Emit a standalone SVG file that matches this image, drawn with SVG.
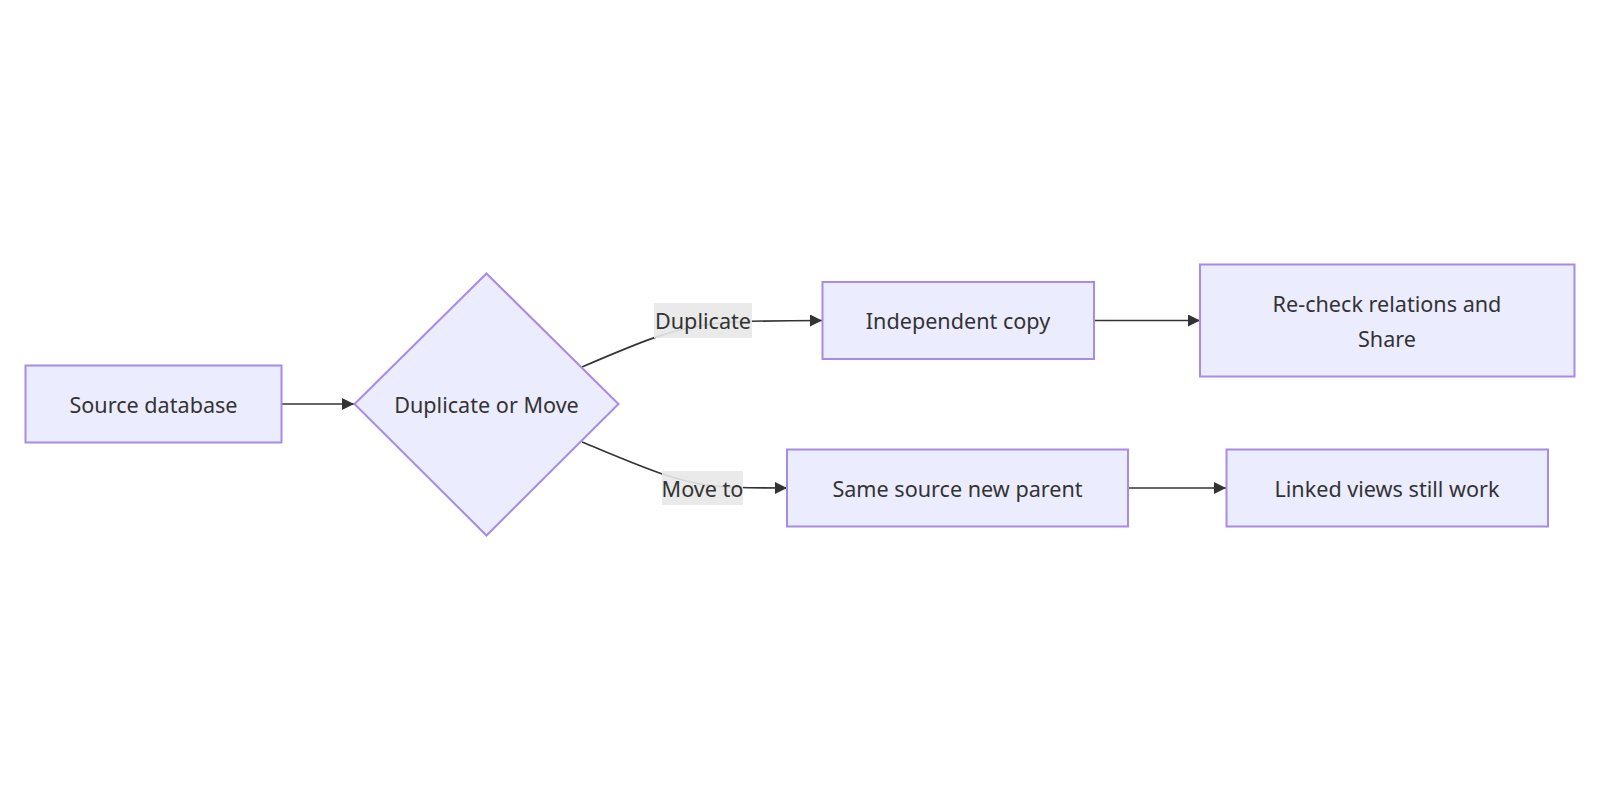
<svg xmlns="http://www.w3.org/2000/svg" width="1600" height="800" viewBox="0 0 1600 800">
<style>
.node rect, .node polygon { fill: #ECECFF; stroke: #A88BE6; stroke-width: 2; }
.lbl { font-family: "Noto Sans", "Liberation Sans", sans-serif; font-size: 21.6px; fill: #333333; text-anchor: middle; dominant-baseline: central; }
.edge { fill: none; stroke: #333333; stroke-width: 1.6; }
.ebg { fill: #e8e8e8; opacity: 0.9; }
</style>
<defs>
<marker id="arrow" viewBox="0 0 10 10" refX="10" refY="5" markerUnits="userSpaceOnUse" markerWidth="12" markerHeight="12" orient="auto">
<path d="M 0 0 L 10 5 L 0 10 z" fill="#333333"/>
</marker>
</defs>
<rect width="1600" height="800" fill="#ffffff"/>
<g id="connectors">
<path class="edge" d="M 282 404 L 354 404" marker-end="url(#arrow)"/>
<path class="edge" d="M 582 367 C 640 342, 675 327, 720 323 C 745 321, 770 320.5, 822 320.5" marker-end="url(#arrow)"/>
<path class="edge" d="M 582 442 C 640 466, 675 482, 715 486 C 735 488, 760 488, 787 488" marker-end="url(#arrow)"/>
<path class="edge" d="M 1094 320.5 L 1200 320.5" marker-end="url(#arrow)"/>
<path class="edge" d="M 1128 488 L 1226 488" marker-end="url(#arrow)"/>
</g>
<g id="edge-labels">
<g id="label-duplicate">
<rect class="ebg" x="654" y="303" width="98" height="35"/>
<text class="lbl" x="703" y="320.5">Duplicate</text>
</g>
<g id="label-move">
<rect class="ebg" x="662" y="471" width="81" height="34"/>
<text class="lbl" x="702.5" y="488">Move to</text>
</g>
</g>
<g id="node-source" class="node">
<rect x="25.5" y="365.5" width="256" height="77"/>
<text class="lbl" x="153.5" y="404">Source database</text>
</g>
<g id="node-decision" class="node">
<polygon points="486.5,273.5 618.5,404 486.5,535.5 354.5,404"/>
<text class="lbl" x="486.5" y="404">Duplicate or Move</text>
</g>
<g id="node-copy" class="node">
<rect x="822.5" y="282" width="271.5" height="77"/>
<text class="lbl" x="958" y="320.5">Independent copy</text>
</g>
<g id="node-recheck" class="node">
<rect x="1200" y="264.5" width="374.5" height="112"/>
<text class="lbl" x="1387" y="303.5">Re-check relations and</text>
<text class="lbl" x="1387" y="338">Share</text>
</g>
<g id="node-sameparent" class="node">
<rect x="787" y="449.5" width="341" height="77"/>
<text class="lbl" x="957.5" y="488">Same source new parent</text>
</g>
<g id="node-linked" class="node">
<rect x="1226.5" y="449.5" width="321.5" height="77"/>
<text class="lbl" x="1387" y="488">Linked views still work</text>
</g>
</svg>
